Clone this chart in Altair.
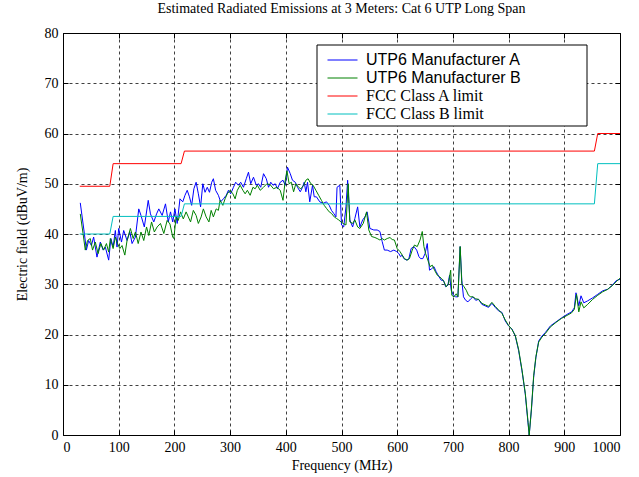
import altair as alt
import pandas as pd

# ---- data ----
freq_a = [31, 38, 42, 46, 51, 55, 61, 67, 72, 76, 82, 86, 90, 94, 97, 100, 105, 109, 115, 120,
          124, 130, 136, 140, 146, 153, 157, 163, 168, 172, 178, 184, 189, 193, 197, 201, 205, 210, 215, 219,
          223, 227, 231, 235, 239, 243, 247, 251, 255, 259, 263, 267, 270, 274, 279, 283, 288, 293, 297, 301,
          306, 310, 315, 319, 324, 329, 333, 337, 342, 347, 351, 355, 360, 365, 369, 373, 377, 381, 385, 390,
          395, 399, 403, 408, 412, 417, 421, 426, 430, 433, 436, 439, 443, 448, 451, 455, 461, 467, 473, 478,
          482, 486, 490, 492, 497, 500, 504, 508, 511, 515, 520, 524, 529, 533, 538, 542, 546, 551, 558, 564,
          569, 573, 577, 582, 588, 594, 599, 603, 606, 609, 612, 617, 621, 625, 630, 635, 639, 642, 646, 650,
          654, 658, 662, 666, 670, 675, 679, 683, 687, 691, 694, 697, 701, 705, 709, 713, 716, 719, 723, 727,
          732, 736, 741, 746, 752, 758, 764, 770, 776, 782, 788, 794, 800, 806, 812, 818, 824, 830, 835, 837,
          841, 845, 849, 854, 860, 866, 875, 885, 895, 905, 913, 918, 921, 926, 930, 935, 942, 951, 960, 969,
          978, 987, 993, 1000]
val_a = [46.2, 40.4, 36.8, 38.7, 37.7, 39.4, 35.4, 38.4, 36.8, 37.4, 34.8, 39.1, 37.4, 40.7, 37.4, 41.1, 38.4, 40.7, 38.7, 40.4,
         38.1, 39.4, 45.0, 43.7, 41.4, 46.7, 44.0, 42.4, 44.0, 45.0, 43.7, 46.0, 42.4, 44.4, 42.4, 45.0, 42.1, 47.0, 46.4, 47.7,
         48.7, 47.4, 45.7, 49.0, 50.3, 48.0, 45.4, 50.0, 48.3, 49.3, 48.3, 50.3, 51.0, 48.7, 47.7, 46.4, 47.0, 47.7, 48.7, 48.0,
         49.3, 50.3, 49.7, 50.3, 49.3, 51.0, 52.3, 50.0, 51.3, 49.7, 50.0, 49.3, 52.0, 51.0, 49.3, 50.3, 49.7, 50.0, 49.0, 50.3,
         50.7, 49.7, 53.3, 52.0, 50.7, 50.3, 49.3, 48.4, 49.3, 50.3, 48.4, 50.3, 46.4, 49.7, 47.4, 47.4, 46.4, 46.1, 46.4, 45.7,
         44.7, 44.1, 43.4, 49.3, 49.7, 41.8, 41.4, 45.4, 50.7, 42.8, 41.4, 43.1, 45.4, 41.4, 42.8, 43.4, 44.4, 41.1, 40.8, 40.8,
         40.5, 38.5, 36.8, 36.8, 36.5, 36.8, 36.5, 36.1, 35.5, 35.8, 35.1, 34.8, 35.1, 37.1, 37.5, 36.8, 35.5, 35.1, 35.1, 36.1,
         38.1, 32.8, 33.1, 33.5, 32.5, 31.5, 30.8, 30.8, 29.5, 29.8, 31.8, 28.8, 27.8, 27.5, 27.5, 37.5, 30.8, 27.5, 26.8, 26.5,
         27.1, 27.5, 26.8, 27.0, 26.0, 25.7, 25.4, 26.2, 25.4, 24.7, 24.4, 22.7, 21.7, 21.1, 19.7, 16.8, 12.8, 8.1, 2.2, 0.0,
         5.0, 11.5, 15.4, 18.7, 19.7, 20.4, 21.7, 22.5, 23.3, 24.0, 24.5, 25.3, 28.3, 25.7, 27.7, 26.3, 26.7, 27.3, 28.0, 28.7,
         29.0, 29.9, 30.7, 31.0]

freq_b = [31, 36, 40, 44, 49, 53, 58, 63, 68, 73, 78, 82, 85, 90, 94, 98, 102, 106, 111, 115,
          121, 126, 130, 135, 140, 145, 150, 154, 159, 164, 169, 175, 181, 187, 192, 197, 199, 203, 207, 211,
          216, 221, 225, 229, 234, 239, 243, 248, 252, 257, 262, 266, 270, 275, 279, 282, 287, 291, 295, 300,
          305, 309, 313, 318, 323, 327, 331, 336, 341, 345, 349, 354, 360, 366, 372, 378, 384, 390, 395, 399,
          402, 406, 410, 414, 418, 423, 427, 432, 436, 440, 445, 449, 454, 459, 464, 469, 473, 478, 482, 487,
          491, 495, 499, 503, 508, 512, 515, 520, 524, 529, 533, 539, 545, 549, 554, 560, 564, 569, 573, 577,
          582, 587, 591, 595, 600, 605, 609, 613, 618, 622, 627, 631, 636, 641, 645, 648, 651, 655, 659, 663,
          667, 672, 676, 680, 684, 688, 692, 696, 698, 702, 706, 709, 713, 716, 720, 724, 728, 732, 736, 741,
          746, 752, 758, 764, 770, 776, 782, 788, 794, 800, 806, 812, 818, 824, 830, 835, 837, 841, 845, 849,
          854, 860, 866, 875, 885, 895, 905, 913, 918, 922, 926, 930, 935, 942, 951, 960, 969, 978, 987, 993,
          1000]
val_b = [44.0, 40.1, 36.8, 38.7, 39.1, 36.8, 38.4, 36.1, 38.1, 36.8, 38.1, 36.4, 39.1, 37.1, 39.4, 38.1, 37.1, 37.7, 35.8, 38.7,
         41.1, 39.1, 40.4, 38.1, 40.4, 38.7, 41.4, 39.7, 42.4, 40.4, 41.4, 42.1, 40.1, 42.7, 42.0, 39.4, 39.1, 43.4, 42.7, 44.4,
         43.0, 44.4, 43.4, 42.4, 44.7, 43.7, 42.1, 43.4, 45.0, 43.4, 42.4, 44.7, 43.4, 45.0, 44.7, 46.7, 45.7, 47.0, 48.0, 48.7,
         48.0, 47.0, 48.7, 49.7, 48.7, 48.0, 48.7, 47.7, 49.3, 49.0, 49.7, 48.7, 49.3, 50.0, 49.8, 49.0, 49.3, 48.7, 46.7, 50.7,
         52.6, 50.0, 50.3, 48.4, 50.0, 49.3, 49.0, 49.7, 50.7, 51.0, 50.0, 49.7, 48.7, 47.7, 46.7, 45.7, 45.1, 44.4, 44.1, 43.4,
         43.1, 42.8, 42.4, 42.1, 41.8, 50.0, 42.4, 42.1, 42.8, 41.4, 41.1, 42.1, 44.4, 40.8, 39.5, 39.3, 39.1, 38.8, 39.1, 38.8,
         39.1, 39.3, 38.9, 38.8, 37.1, 36.5, 35.8, 35.1, 34.8, 35.1, 36.8, 37.8, 37.5, 38.8, 40.5, 37.5, 36.1, 34.8, 33.5, 33.8,
         32.8, 31.8, 31.5, 31.1, 30.5, 29.5, 30.1, 32.8, 27.8, 27.5, 28.1, 27.5, 37.5, 30.1, 29.5, 28.8, 27.8, 27.5, 27.5, 27.1,
         27.0, 26.2, 25.9, 25.6, 26.4, 25.6, 24.9, 24.2, 22.9, 21.8, 21.0, 19.8, 17.0, 13.0, 8.3, 2.5, 0.0, 5.3, 11.8, 15.6,
         18.5, 19.5, 20.2, 21.5, 22.4, 23.2, 23.8, 24.3, 25.0, 28.0, 24.5, 26.5, 25.3, 26.0, 27.0, 27.8, 28.5, 29.0, 29.8, 30.5,
         31.2]

limit_freq = [30, 84, 90, 212, 218, 954, 960, 1000]
class_a_limit = [49.5, 49.5, 54, 54, 56.5, 56.5, 60, 60]
class_b_limit = [40, 40, 43.5, 43.5, 46, 46, 54, 54]

series_names = ["UTP6 Manufacturer A", "UTP6 Manufacturer B", "FCC Class A limit", "FCC Class B limit"]
series_colors = ["#0000ff", "#008000", "#ff0000", "#00bfbf"]

x_ticks = list(range(0, 1001, 100))
y_ticks = list(range(0, 81, 10))

rows = []
for name, fs, vs in [
    (series_names[0], freq_a, val_a),
    (series_names[1], freq_b, val_b),
    (series_names[2], limit_freq, class_a_limit),
    (series_names[3], limit_freq, class_b_limit),
]:
    for i, (f, v) in enumerate(zip(fs, vs)):
        rows.append({"series": name, "f": f, "v": v, "i": i})
df = pd.DataFrame(rows)

serif = "Liberation Serif"

x_scale = alt.Scale(domain=[0, 1000], nice=False, zero=False)
y_scale = alt.Scale(domain=[0, 80], nice=False)

# white framed box behind the legend
legend_box = alt.Chart(pd.DataFrame({"k": [0]})).mark_rect(
    fill="white", stroke="black", strokeWidth=1
).encode(
    x=alt.value(254), x2=alt.value(524), y=alt.value(12), y2=alt.value(93)
)

lines = alt.Chart(df).mark_line(strokeWidth=1, clip=True).encode(
    x=alt.X("f:Q", scale=x_scale,
            axis=alt.Axis(values=x_ticks, format="d", title="Frequency (MHz)",
                          grid=True, ticks=True, tickSize=5, offset=-5,
                          labelPadding=5, titlePadding=4)),
    y=alt.Y("v:Q", scale=y_scale,
            axis=alt.Axis(values=y_ticks, format="d", title="Electric field (dBuV/m)",
                          grid=True, ticks=True, tickSize=5, offset=-5,
                          labelPadding=5, titlePadding=15)),
    color=alt.Color("series:N",
                    scale=alt.Scale(domain=series_names, range=series_colors),
                    legend=alt.Legend(title=None, orient="none", legendX=254, legendY=15,
                                      strokeColor="transparent", padding=4,
                                      symbolType="M-2,0H2", symbolSize=225, symbolStrokeWidth=1,
                                      labelFont=alt.ExprRef(
                                          "indexof(datum.label, 'UTP6') >= 0 ? 'Liberation Sans' : 'Liberation Serif'"),
                                      labelFontSize=16, labelColor="black",
                                      labelOffset=15.5, rowPadding=2, symbolOffset=13.5)),
    order="i:Q",
    detail="series:N",
)

# inward ticks on the top and right edges of the frame
edge_ticks = alt.Chart(df).mark_point(opacity=0).encode(
    x=alt.X("f:Q", scale=x_scale,
            axis=alt.Axis(orient="top", values=x_ticks, labels=False, title=None,
                          grid=False, ticks=True, tickSize=5, offset=-5)),
    y=alt.Y("v:Q", scale=y_scale,
            axis=alt.Axis(orient="right", values=y_ticks, labels=False, title=None,
                          grid=False, ticks=True, tickSize=5, offset=-5)),
)

chart = alt.layer(legend_box, lines, edge_ticks).resolve_axis(
    x="independent", y="independent"
).properties(
    width=557,
    height=402,
    autosize=alt.AutoSizeParams(type="none"),
    padding={"left": 63, "top": 33, "right": 19, "bottom": 42},
    title=alt.TitleParams("Estimated Radiated Emissions at 3 Meters: Cat 6 UTP Long Span",
                          font=serif, fontSize=14, fontWeight="normal", color="black",
                          anchor="middle", offset=10),
).configure_view(
    stroke="black", strokeWidth=1
).configure_axis(
    labelFont=serif, labelFontSize=14, labelColor="black",
    titleFont=serif, titleFontSize=14, titleFontWeight="normal", titleColor="black",
    domain=False, tickColor="black", tickWidth=1,
    gridColor="black", gridDash=[3, 3], gridOpacity=0.75, gridWidth=1,
)

chart.save("out.html", embed_options={"renderer": "svg", "actions": False})
